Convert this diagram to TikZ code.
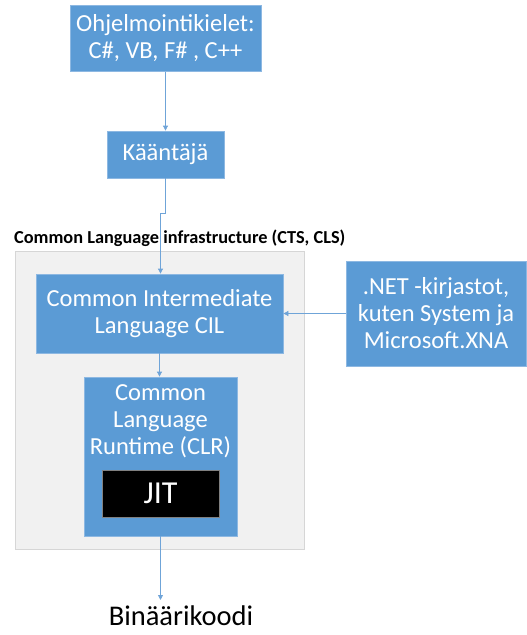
\documentclass[tikz,border=0pt]{standalone}
\usepackage{fontspec}
\setmainfont{Carlito}
\usetikzlibrary{arrows.meta}
\definecolor{boxblue}{HTML}{5B9BD5}
\definecolor{boxedge}{HTML}{8DB8E2}
\definecolor{linecol}{HTML}{6FA4D8}
\definecolor{contfill}{HTML}{F1F1F1}
\definecolor{contedge}{HTML}{D6D6D6}
\tikzset{
  bluebox/.style={draw=boxedge, line width=0.8pt, fill=boxblue, text=white, align=center, inner sep=0pt, font=\fontsize{24.5}{27}\selectfont},
  arr/.style={draw=linecol, line width=0.8pt, -{Triangle[length=5pt,width=5pt]}},
  plain/.style={draw=linecol, line width=0.8pt}
}
\begin{document}
\begin{tikzpicture}[x=1pt,y=-1pt]
\useasboundingbox (0,0) rectangle (527,635);
% container
\draw[draw=contedge, fill=contfill, line width=0.8pt] (15,251) rectangle (304,549);
\node[font=\bfseries\fontsize{18.3}{20}\selectfont, anchor=west, inner sep=0pt] (cli) at (14,238) {Common Language infrastructure (CTS, CLS)};
% boxes
\node[bluebox, minimum width=191pt, minimum height=66pt] (lang) at (165.5,38.5) {Ohjelmointikielet:\\C\#, VB, F\# , C++};
\node[bluebox, minimum width=117pt, minimum height=47pt] (kaa) at (165.5,154.5) {Kääntäjä};
\node[bluebox, minimum width=247pt, minimum height=79pt] (cil) at (159.5,313.5) {Common Intermediate\\Language CIL};
\node[bluebox, minimum width=180pt, minimum height=105pt] (net) at (436,313.5) {.NET -kirjastot,\\kuten System ja\\Microsoft.XNA};
\node[bluebox, minimum width=153pt, minimum height=159pt] (clr) at (160.5,456.5) {};
\node[text=white, align=center, inner sep=0pt, font=\fontsize{24.5}{27}\selectfont] (clrtext) at (160.5,421) {Common\\Language\\Runtime (CLR)};
\node[draw=gray, line width=0.6pt, fill=black, text=white, inner sep=0pt, minimum width=117pt, minimum height=47pt, font=\fontsize{32}{34}\selectfont] (jit) at (160.5,493.5) {JIT};
\node[font=\fontsize{28.5}{30}\selectfont, text=black, inner sep=0pt] (bin) at (181,616) {Binäärikoodi};
% connectors
\draw[arr] (lang.south) -- (kaa.north);
\coordinate (j1) at (165.5,213);
\coordinate (j2) at (160.5,213);
\draw[arr] (kaa.south) -- (j1) -- (j2) -- (j2 |- cil.north);
\draw[arr] (net.west) -- (cil.east);
\draw[arr] (cil.south) -- (cil.south |- clr.north);
\coordinate (bend) at (160.5,600);
\draw[arr] (clr.south) -- (bend);
\end{tikzpicture}
\end{document}
